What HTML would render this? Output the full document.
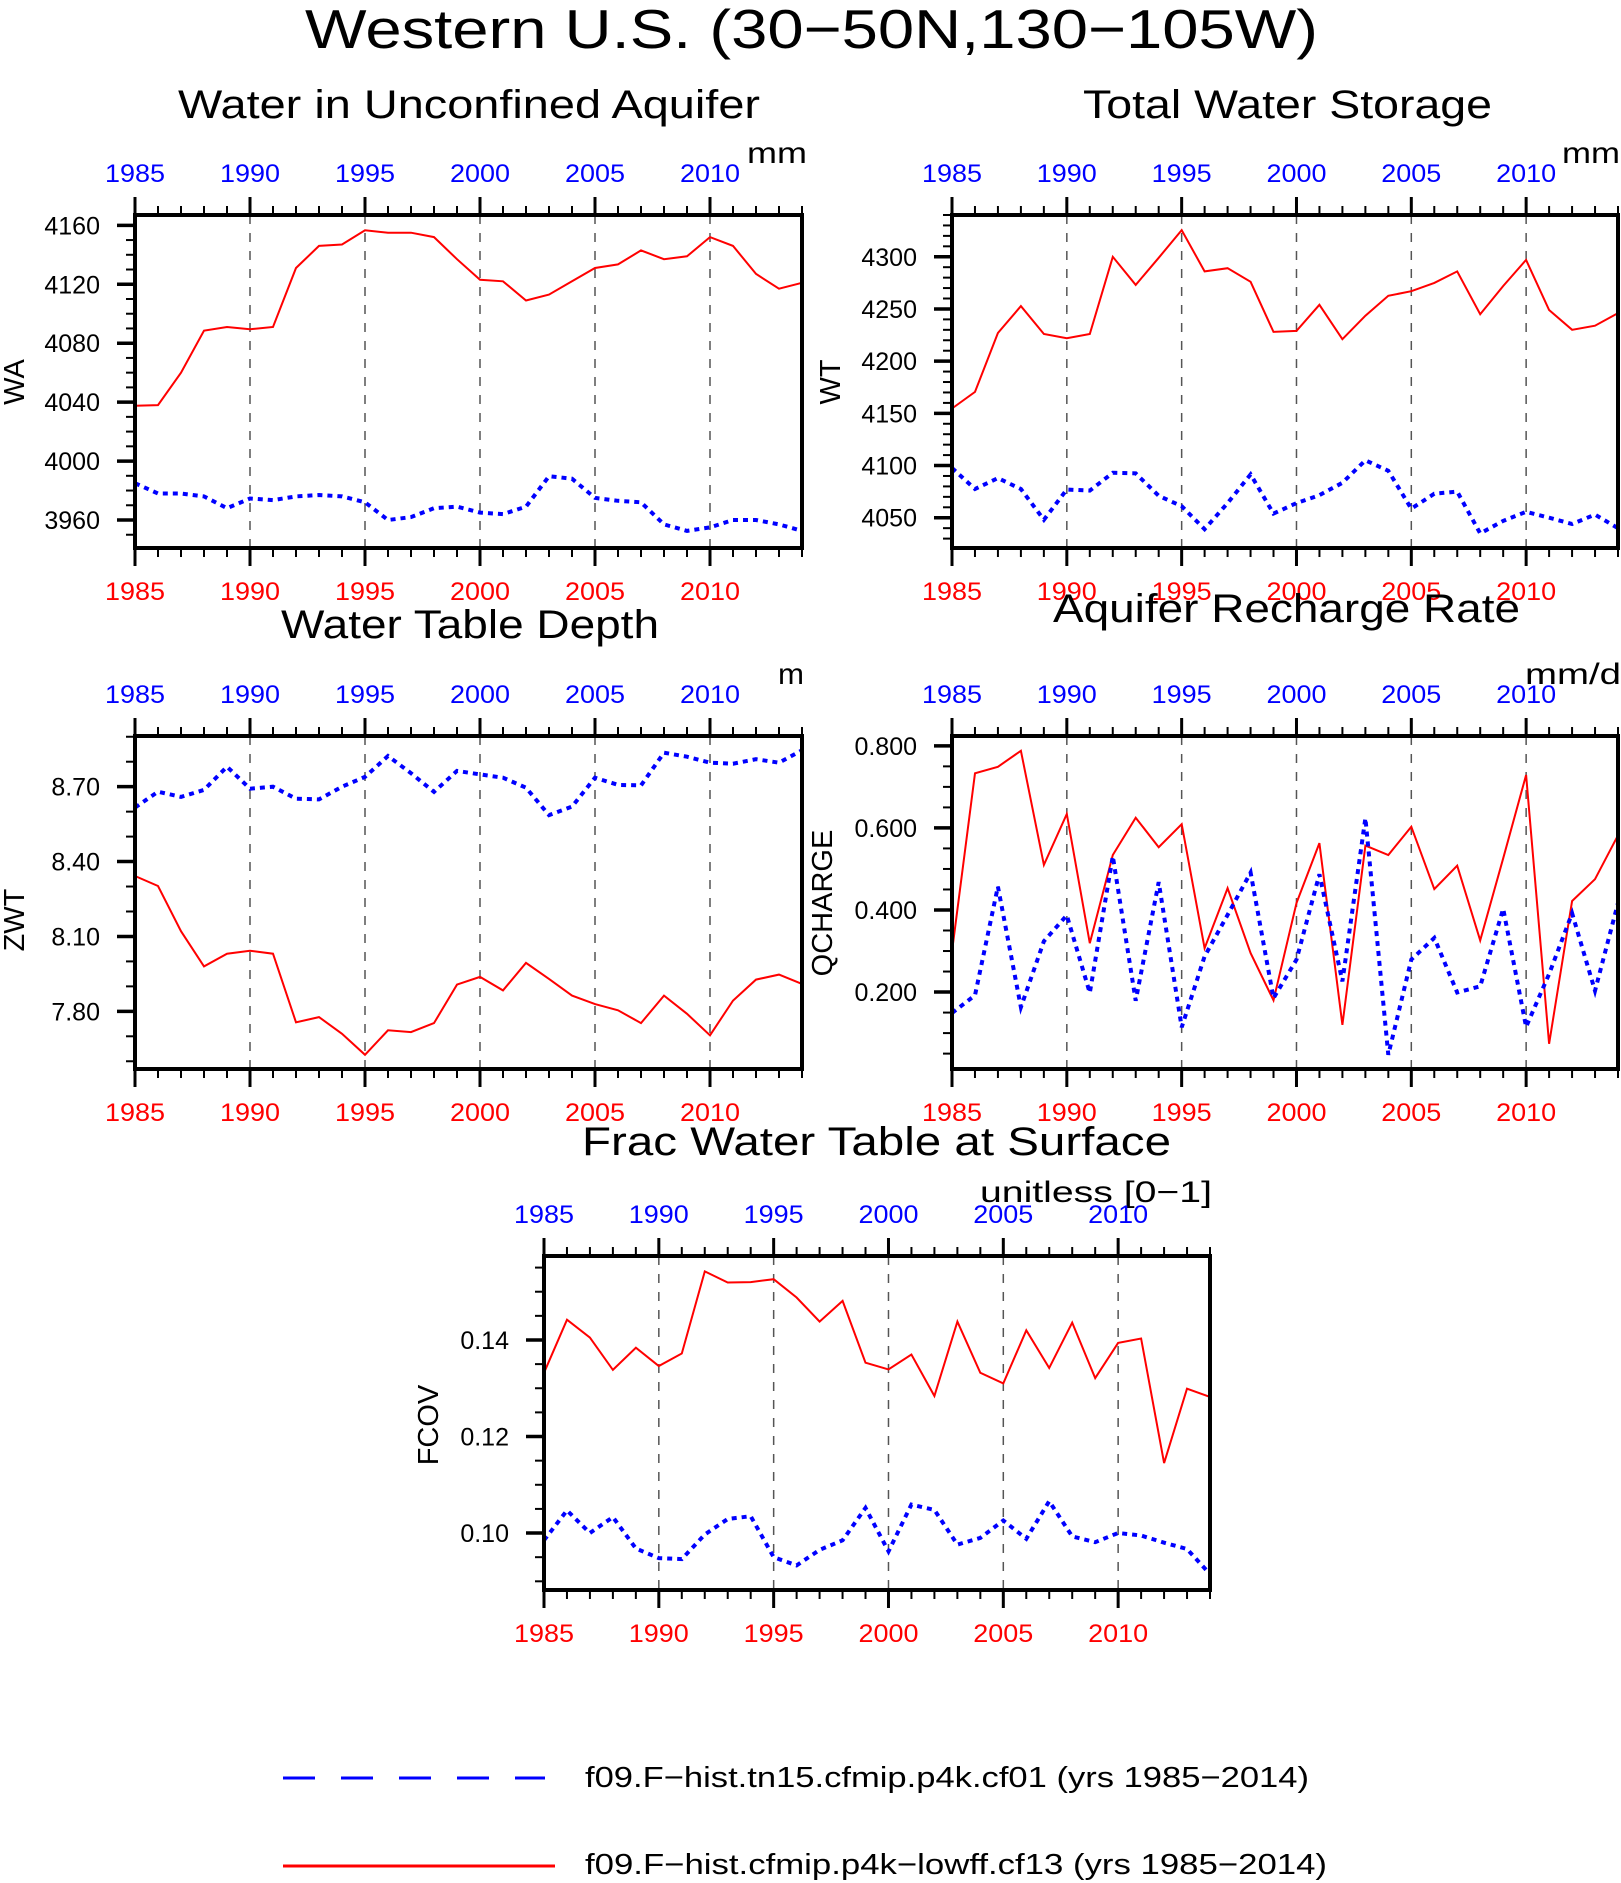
<!DOCTYPE html>
<html><head><meta charset="utf-8"><style>
html,body{margin:0;padding:0;background:#fff;}
svg{display:block;font-family:"Liberation Sans",sans-serif;}
</style></head><body>
<svg id="fig" xmlns="http://www.w3.org/2000/svg" width="1621" height="1883" viewBox="0 0 1621 1883">
<rect width="1621" height="1883" fill="#fff"/>
<text x="305" y="48" font-size="55" textLength="1013" lengthAdjust="spacingAndGlyphs">Western U.S. (30−50N,130−105W)</text>
<g id="panels"></g>
<g>
<line x1="283" y1="1778" x2="545" y2="1778" stroke="#0000ff" stroke-width="3" stroke-dasharray="32,26"/>
<text x="585" y="1787" font-size="29" textLength="724" lengthAdjust="spacingAndGlyphs">f09.F−hist.tn15.cfmip.p4k.cf01 (yrs 1985−2014)</text>
<line x1="283" y1="1866" x2="555" y2="1866" stroke="#ff0000" stroke-width="3"/>
<text x="585" y="1874" font-size="29" textLength="742" lengthAdjust="spacingAndGlyphs">f09.F−hist.cfmip.p4k−lowff.cf13 (yrs 1985−2014)</text>
</g>
</svg>
<script>
const years = [];
for (let y = 1985; y <= 2014; y++) years.push(y);
const xTickLabels = ["1985","1990","1995","2000","2005","2010"];

const waRed = [4037.5,4038,4060,4088.5,4091,4089.5,4091,4131,4146,4147,4156.6,4155,4155,4152,4137,4123,4122,4109,4113,4122,4131,4133.5,4143,4137,4139,4152,4146,4127,4117,4121];
const waBlue = [3985,3978,3978,3976,3968,3974.6,3973.5,3976,3977,3976,3972,3960,3962,3968,3969,3965,3964,3969,3989.7,3988,3975,3973,3972,3957,3952.6,3955,3960,3960,3957,3952.6];
const waTicks = ["3960","4000","4040","4080","4120","4160"];

const wtRed = [4154.6,4170.5,4227,4252.7,4226,4222,4226,4300,4273,4299,4325.5,4286,4289,4276,4228,4229,4254,4221,4243.5,4262.6,4267,4275,4286,4245,4272,4297,4249,4230,4234,4246];
const wtBlue = [4097.6,4077.5,4088,4077.5,4048,4077,4076,4093,4092.5,4071,4061,4039,4064,4091.5,4054,4064,4071.6,4083.5,4105,4095,4058.6,4073,4075,4035,4047,4055.7,4050,4044,4053,4040];
const wtTicks = ["4050","4100","4150","4200","4250","4300"];

const zwtRed = [8.342,8.302,8.121,7.98,8.031,8.043,8.031,7.756,7.777,7.71,7.626,7.724,7.717,7.753,7.907,7.938,7.884,7.994,7.93,7.863,7.829,7.804,7.753,7.863,7.79,7.704,7.843,7.927,7.947,7.91];
const zwtBlue = [8.616,8.68,8.659,8.687,8.78,8.692,8.70,8.652,8.649,8.70,8.739,8.823,8.754,8.679,8.763,8.749,8.736,8.696,8.586,8.62,8.736,8.707,8.705,8.836,8.82,8.796,8.792,8.81,8.796,8.846];
const zwtTicks = ["7.80","8.10","8.40","8.70"];

const qRed = [0.299,0.733,0.749,0.788,0.510,0.634,0.319,0.534,0.625,0.553,0.609,0.307,0.453,0.295,0.180,0.417,0.563,0.120,0.557,0.534,0.603,0.451,0.508,0.326,0.526,0.729,0.074,0.422,0.475,0.582];
const qBlue = [0.149,0.192,0.457,0.163,0.324,0.387,0.198,0.531,0.179,0.468,0.114,0.287,0.388,0.491,0.185,0.279,0.487,0.226,0.624,0.047,0.279,0.332,0.199,0.214,0.403,0.115,0.244,0.392,0.203,0.417];
const qTicks = ["0.200","0.400","0.600","0.800"];

const fRed = [0.1332,0.1442,0.1405,0.1338,0.1384,0.1346,0.1372,0.1542,0.1519,0.1520,0.1526,0.1488,0.1438,0.1481,0.1353,0.1339,0.1370,0.1284,0.1438,0.1332,0.1310,0.1420,0.1342,0.1436,0.1321,0.1394,0.1403,0.1145,0.1299,0.1282];
const fBlue = [0.0985,0.1047,0.1000,0.1033,0.0968,0.0948,0.0946,0.0997,0.1029,0.1035,0.0950,0.0933,0.0965,0.0985,0.1052,0.0962,0.1059,0.1048,0.0976,0.0990,0.1026,0.0988,0.1066,0.0993,0.0981,0.1000,0.0995,0.0980,0.0967,0.0915];
const fTicks = ["0.10","0.12","0.14"];

const NS = "http://www.w3.org/2000/svg";
const root = document.getElementById("panels");
function mk(tag, attrs, parent) {
  const e = document.createElementNS(NS, tag);
  for (const k in attrs) e.setAttribute(k, attrs[k]);
  parent.appendChild(e);
  return e;
}

const panels = [
  {id:"wa", L:135,R:802,T:215,B:548, ymin:3941,ymax:4167, minor:10, red:waRed, blue:waBlue, ticks:waTicks, ylab:"WA", ylx:14,yly:382,
   title:"Water in Unconfined Aquifer", tx:178,tw:582,ty:118, unit:"mm", ux:747,uy:163,uw:60},
  {id:"wt", L:952,R:1618,T:215,B:548, ymin:4021,ymax:4340, minor:10, red:wtRed, blue:wtBlue, ticks:wtTicks, ylab:"WT", ylx:830,yly:382,
   title:"Total Water Storage", tx:1083,tw:409,ty:118, unit:"mm", ux:1562,uy:163,uw:58},
  {id:"zwt", L:135,R:802,T:736,B:1069, ymin:7.569,ymax:8.903, minor:0.1, red:zwtRed, blue:zwtBlue, ticks:zwtTicks, ylab:"ZWT", ylx:14,yly:920,
   title:"Water Table Depth", tx:281,tw:378,ty:638, unit:"m", ux:778,uy:684,uw:26},
  {id:"qcharge", L:952,R:1618,T:736,B:1069, ymin:0.0125,ymax:0.824, minor:0.05, red:qRed, blue:qBlue, ticks:qTicks, ylab:"QCHARGE", ylx:822,yly:903,
   title:"Aquifer Recharge Rate", tx:1053,tw:467,ty:622, unit:"mm/d", ux:1525,uy:684,uw:96},
  {id:"fcov", L:544,R:1210,T:1256,B:1590, ymin:0.0882,ymax:0.1574, minor:0.005, red:fRed, blue:fBlue, ticks:fTicks, ylab:"FCOV", ylx:428,yly:1425,
   title:"Frac Water Table at Surface", tx:582,tw:589,ty:1155, unit:"unitless [0−1]", ux:980,uy:1202,uw:232}
];

panels.forEach(p => {
  const g = mk("g", {}, root);
  
  
  const xs = yr => p.L + (yr - 1985) / 29 * (p.R - p.L);
  const ys = v => p.B - (v - p.ymin) / (p.ymax - p.ymin) * (p.B - p.T);

  const t = mk("text", {x:p.tx, y:p.ty, "font-size":40, textLength:p.tw, lengthAdjust:"spacingAndGlyphs"}, g);
  t.textContent = p.title;
  
  
  const u = mk("text", {x:p.ux, y:p.uy, "font-size":30, textLength:p.uw, lengthAdjust:"spacingAndGlyphs"}, g);
  u.textContent = p.unit;
  
  

  [1990,1995,2000,2005,2010].forEach(yr => {
    const l = mk("line", {x1:xs(yr), x2:xs(yr), y1:p.T, y2:p.B, stroke:"#555", "stroke-width":1.5, "stroke-dasharray":"9,9"}, g);
    
    
  });

  years.forEach(yr => {
    const major = (yr % 5 === 0);
    const len = major ? 18 : 9;
    const w = major ? 3 : 2;
    const a = mk("line", {x1:xs(yr), x2:xs(yr), y1:p.T, y2:p.T - len, stroke:"#000", "stroke-width":w}, g);
    
    
    const b = mk("line", {x1:xs(yr), x2:xs(yr), y1:p.B, y2:p.B + len, stroke:"#000", "stroke-width":w}, g);
    
    
  });
  xTickLabels.forEach(s => {
    const yr = +s;
    const a = mk("text", {x:xs(yr), y:p.T - 33, "font-size":25, fill:"#0000ff", "text-anchor":"middle", textLength:60, lengthAdjust:"spacingAndGlyphs"}, g);
    a.textContent = s;
    
    
    const b = mk("text", {x:xs(yr), y:p.B + 52, "font-size":25, fill:"#ff0000", "text-anchor":"middle", textLength:60, lengthAdjust:"spacingAndGlyphs"}, g);
    b.textContent = s;
    
    
  });

  const start = Math.ceil(p.ymin / p.minor - 1e-9);
  const end = Math.floor(p.ymax / p.minor + 1e-9);
  for (let k = start; k <= end; k++) {
    const v = k * p.minor;
    const m = mk("line", {x1:p.L, x2:p.L - 9, y1:ys(v), y2:ys(v), stroke:"#000", "stroke-width":2}, g);
    
    
  }
  p.ticks.forEach(s => {
    const v = parseFloat(s);
    const m = mk("line", {x1:p.L, x2:p.L - 18, y1:ys(v), y2:ys(v), stroke:"#000", "stroke-width":3.5}, g);
    
    
    const tx = mk("text", {x:p.L - 35, y:ys(v) + 9, "font-size":25, "text-anchor":"end"}, g);
    tx.textContent = s;
    
    
  });

  const yl = mk("text", {x:p.ylx + 10, y:p.yly, "font-size":29, "text-anchor":"middle", transform:"rotate(-90 " + (p.ylx + 10) + " " + p.yly + ")"}, g);
  yl.textContent = p.ylab;
  
  

  const ptsR = p.red.map((v, i) => xs(years[i]).toFixed(1) + "," + ys(v).toFixed(1)).join(" ");
  const ptsB = p.blue.map((v, i) => xs(years[i]).toFixed(1) + "," + ys(v).toFixed(1)).join(" ");
  const lr = mk("polyline", {points:ptsR, fill:"none", stroke:"#ff0000", "stroke-width":2}, g);
  
  
  const lb = mk("polyline", {points:ptsB, fill:"none", stroke:"#0000ff", "stroke-width":4, "stroke-dasharray":"5,5"}, g);
  
  

  const fr = mk("rect", {x:p.L, y:p.T, width:p.R - p.L, height:p.B - p.T, fill:"none", stroke:"#000", "stroke-width":4}, g);
  
  
});
</script>
</body></html>
